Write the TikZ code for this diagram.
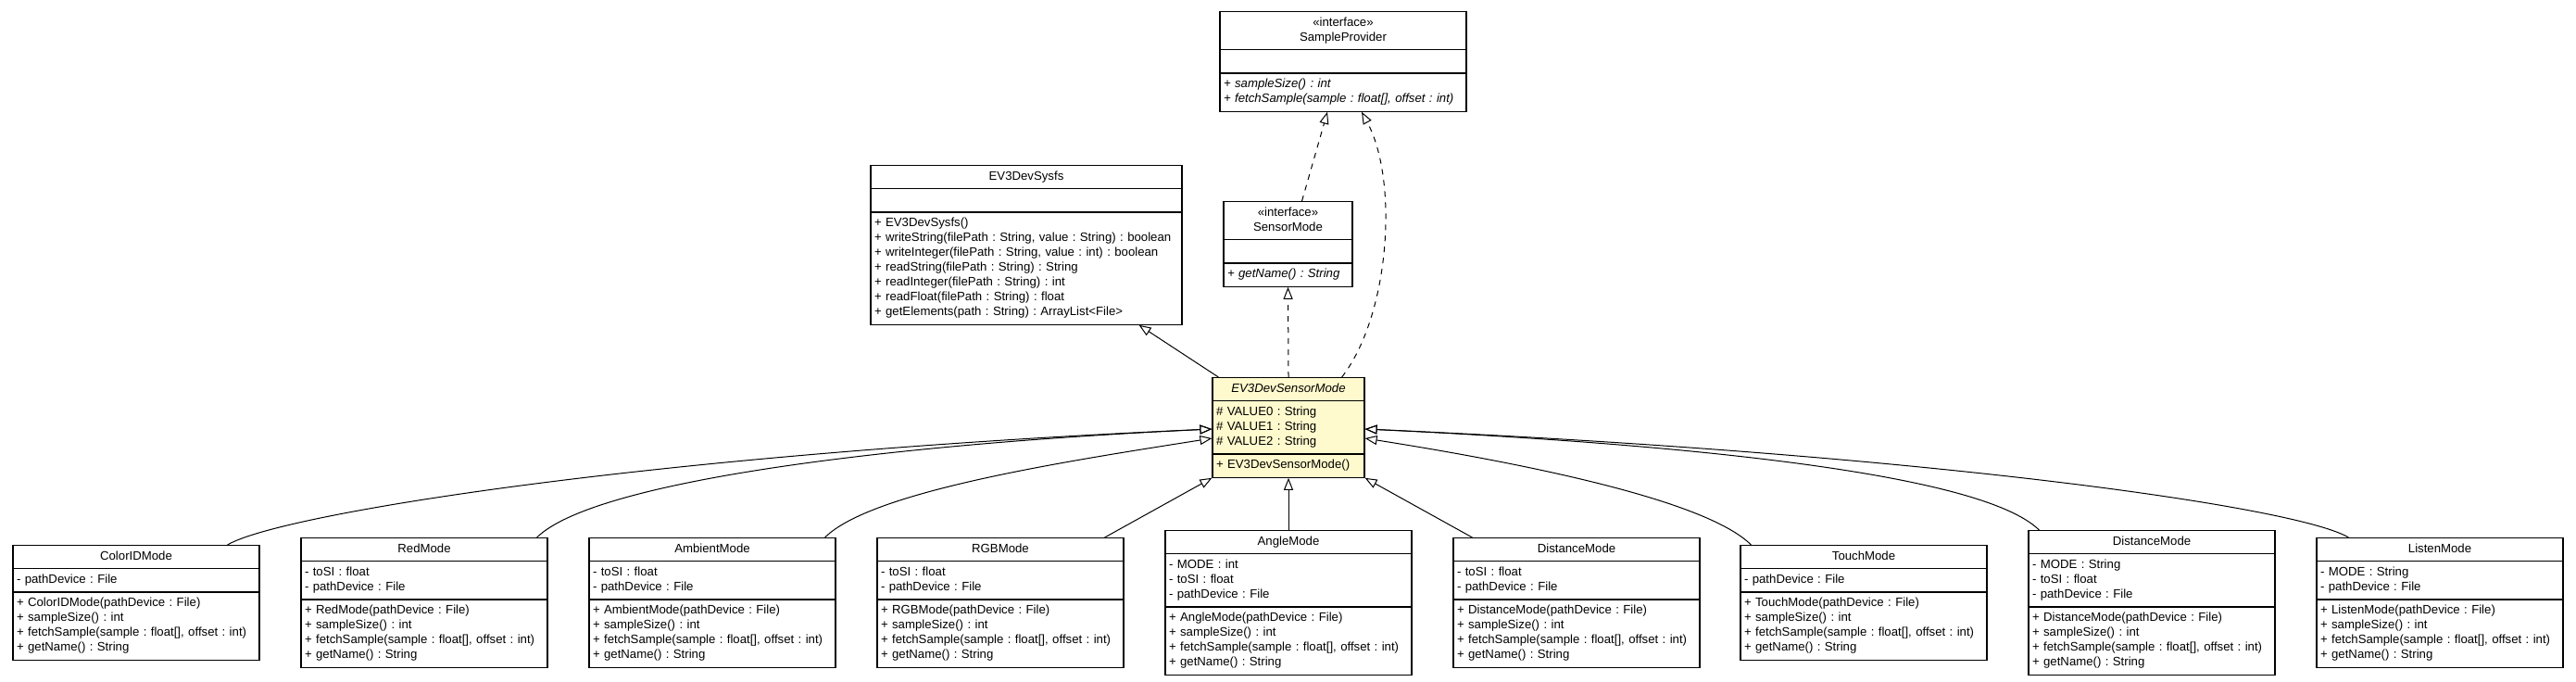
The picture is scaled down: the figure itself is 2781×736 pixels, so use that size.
\documentclass[tikz,border=0pt]{standalone}
\usepackage{fontspec}
\setmainfont{Liberation Sans}
\usepackage{tikz}
\usetikzlibrary{positioning,arrows.meta,calc,shapes.multipart}
\definecolor{lemon}{HTML}{FFFACD}
\newcommand{\cname}[1]{\centering\strut#1\strut\par}
\newcommand{\cbody}[1]{\strut#1\strut}

\begin{document}
\begin{tikzpicture}[
  x=1pt, y=-1pt,
  font=\fontsize{13.2}{16}\selectfont\frenchspacing,
  umlclass/.style={
    rectangle split, rectangle split parts=3,
    draw=black, line width=1.2pt, fill=white,
    inner xsep=4pt, inner ysep=4pt,
    text width=#1, align=left, anchor=north,
  },
  focusclass/.style={umlclass=#1, fill=lemon},
  inherit/.style={->, draw=black, line width=1pt, >={Triangle[open, length=13pt, width=10pt]}},
  realize/.style={inherit, dash pattern=on 6pt off 6pt},
]
\useasboundingbox (0,0) rectangle (2781,736);

% Interfaces and base class (top of the hierarchy)
\node[umlclass=258pt] (sampleprov) at (1450,12) {\cname{«interface»\\SampleProvider}
  \nodepart{two}\cbody{}
  \nodepart{three}\cbody{\itshape + sampleSize() : int\\+ fetchSample(sample : float[], offset : int)}};
\node[umlclass=328pt] (sysfs) at (1108,178) {\cname{EV3DevSysfs}
  \nodepart{two}\cbody{}
  \nodepart{three}\cbody{+ EV3DevSysfs()\\+ writeString(filePath : String, value : String) : boolean\\+ writeInteger(filePath : String, value : int) : boolean\\+ readString(filePath : String) : String\\+ readInteger(filePath : String) : int\\+ readFloat(filePath : String) : float\\+ getElements(path : String) : ArrayList<File>}};
\node[umlclass=131pt] (sensormode) at (1390.5,217) {\cname{«interface»\\SensorMode}
  \nodepart{two}\cbody{}
  \nodepart{three}\cbody{\itshape + getName() : String}};

% Abstract mode class in focus
\node[focusclass=156pt] (devsensor) at (1391,407) {\cname{\itshape EV3DevSensorMode}
  \nodepart{two}\cbody{\# VALUE0 : String\\\# VALUE1 : String\\\# VALUE2 : String}
  \nodepart{three}\cbody{+ EV3DevSensorMode()}};

% Concrete modes (bottom row, centres 311 apart)
\node[umlclass=258pt] (colorid) at (147,588) {\cname{ColorIDMode}
  \nodepart{two}\cbody{- pathDevice : File}
  \nodepart{three}\cbody{+ ColorIDMode(pathDevice : File)\\+ sampleSize() : int\\+ fetchSample(sample : float[], offset : int)\\+ getName() : String}};
\node[umlclass=258pt] (red) at (458,580) {\cname{RedMode}
  \nodepart{two}\cbody{- toSI : float\\- pathDevice : File}
  \nodepart{three}\cbody{+ RedMode(pathDevice : File)\\+ sampleSize() : int\\+ fetchSample(sample : float[], offset : int)\\+ getName() : String}};
\node[umlclass=258pt] (ambient) at (769,580) {\cname{AmbientMode}
  \nodepart{two}\cbody{- toSI : float\\- pathDevice : File}
  \nodepart{three}\cbody{+ AmbientMode(pathDevice : File)\\+ sampleSize() : int\\+ fetchSample(sample : float[], offset : int)\\+ getName() : String}};
\node[umlclass=258pt] (rgb) at (1080,580) {\cname{RGBMode}
  \nodepart{two}\cbody{- toSI : float\\- pathDevice : File}
  \nodepart{three}\cbody{+ RGBMode(pathDevice : File)\\+ sampleSize() : int\\+ fetchSample(sample : float[], offset : int)\\+ getName() : String}};
\node[umlclass=258pt] (angle) at (1391,572) {\cname{AngleMode}
  \nodepart{two}\cbody{- MODE : int\\- toSI : float\\- pathDevice : File}
  \nodepart{three}\cbody{+ AngleMode(pathDevice : File)\\+ sampleSize() : int\\+ fetchSample(sample : float[], offset : int)\\+ getName() : String}};
\node[umlclass=258pt] (distance) at (1702,580) {\cname{DistanceMode}
  \nodepart{two}\cbody{- toSI : float\\- pathDevice : File}
  \nodepart{three}\cbody{+ DistanceMode(pathDevice : File)\\+ sampleSize() : int\\+ fetchSample(sample : float[], offset : int)\\+ getName() : String}};
\node[umlclass=258pt] (touch) at (2012,588) {\cname{TouchMode}
  \nodepart{two}\cbody{- pathDevice : File}
  \nodepart{three}\cbody{+ TouchMode(pathDevice : File)\\+ sampleSize() : int\\+ fetchSample(sample : float[], offset : int)\\+ getName() : String}};
\node[umlclass=258pt] (distanceb) at (2323,572) {\cname{DistanceMode}
  \nodepart{two}\cbody{- MODE : String\\- toSI : float\\- pathDevice : File}
  \nodepart{three}\cbody{+ DistanceMode(pathDevice : File)\\+ sampleSize() : int\\+ fetchSample(sample : float[], offset : int)\\+ getName() : String}};
\node[umlclass=258pt] (listen) at (2634,580) {\cname{ListenMode}
  \nodepart{two}\cbody{- MODE : String\\- pathDevice : File}
  \nodepart{three}\cbody{+ ListenMode(pathDevice : File)\\+ sampleSize() : int\\+ fetchSample(sample : float[], offset : int)\\+ getName() : String}};

% Upper edges: extends (solid) and implements (dashed)
\draw[inherit] ($(devsensor.north west)+(7,0)$) -- ($(sysfs.south east)+(-47,0)$);
\draw[realize] (devsensor.north) -- (sensormode.south);
\draw[realize] ($(sensormode.north)+(15,0)$) -- ($(sampleprov.south)+(-17,0)$);
\draw[realize] ($(devsensor.north east)+(-25,0)$) .. controls +(52,-67) and +(40,74) .. ($(sampleprov.south)+(20,0)$);

% Lower edges: every mode extends EV3DevSensorMode
\draw[inherit] ($(colorid.north east)+(-35,0)$) .. controls +(55,-33) and +(-609,27) .. ($(devsensor.north west)+(0,56)$);
\draw[inherit] ($(red.north east)+(-12,0)$) .. controls +(61,-60) and +(-359,17) .. ($(devsensor.north west)+(0,56)$);
\draw[inherit] ($(ambient.north east)+(-12,0)$) .. controls +(50,-50) and +(-159,25) .. ($(devsensor.north west)+(0,66)$);
\draw[inherit] ($(rgb.north east)+(-21,0)$) -- (devsensor.south west);
\draw[inherit] (angle.north) -- (devsensor.south);
\draw[inherit] ($(distance.north west)+(21,0)$) -- (devsensor.south east);
\draw[inherit] ($(touch.north west)+(12,0)$) .. controls +(-50,-50) and +(159,25) .. ($(devsensor.north east)+(0,66)$);
\draw[inherit] ($(distanceb.north west)+(12,0)$) .. controls +(-61,-60) and +(359,17) .. ($(devsensor.north east)+(0,56)$);
\draw[inherit] ($(listen.north west)+(35,0)$) .. controls +(-55,-33) and +(609,27) .. ($(devsensor.north east)+(0,56)$);

\end{tikzpicture}
\end{document}
